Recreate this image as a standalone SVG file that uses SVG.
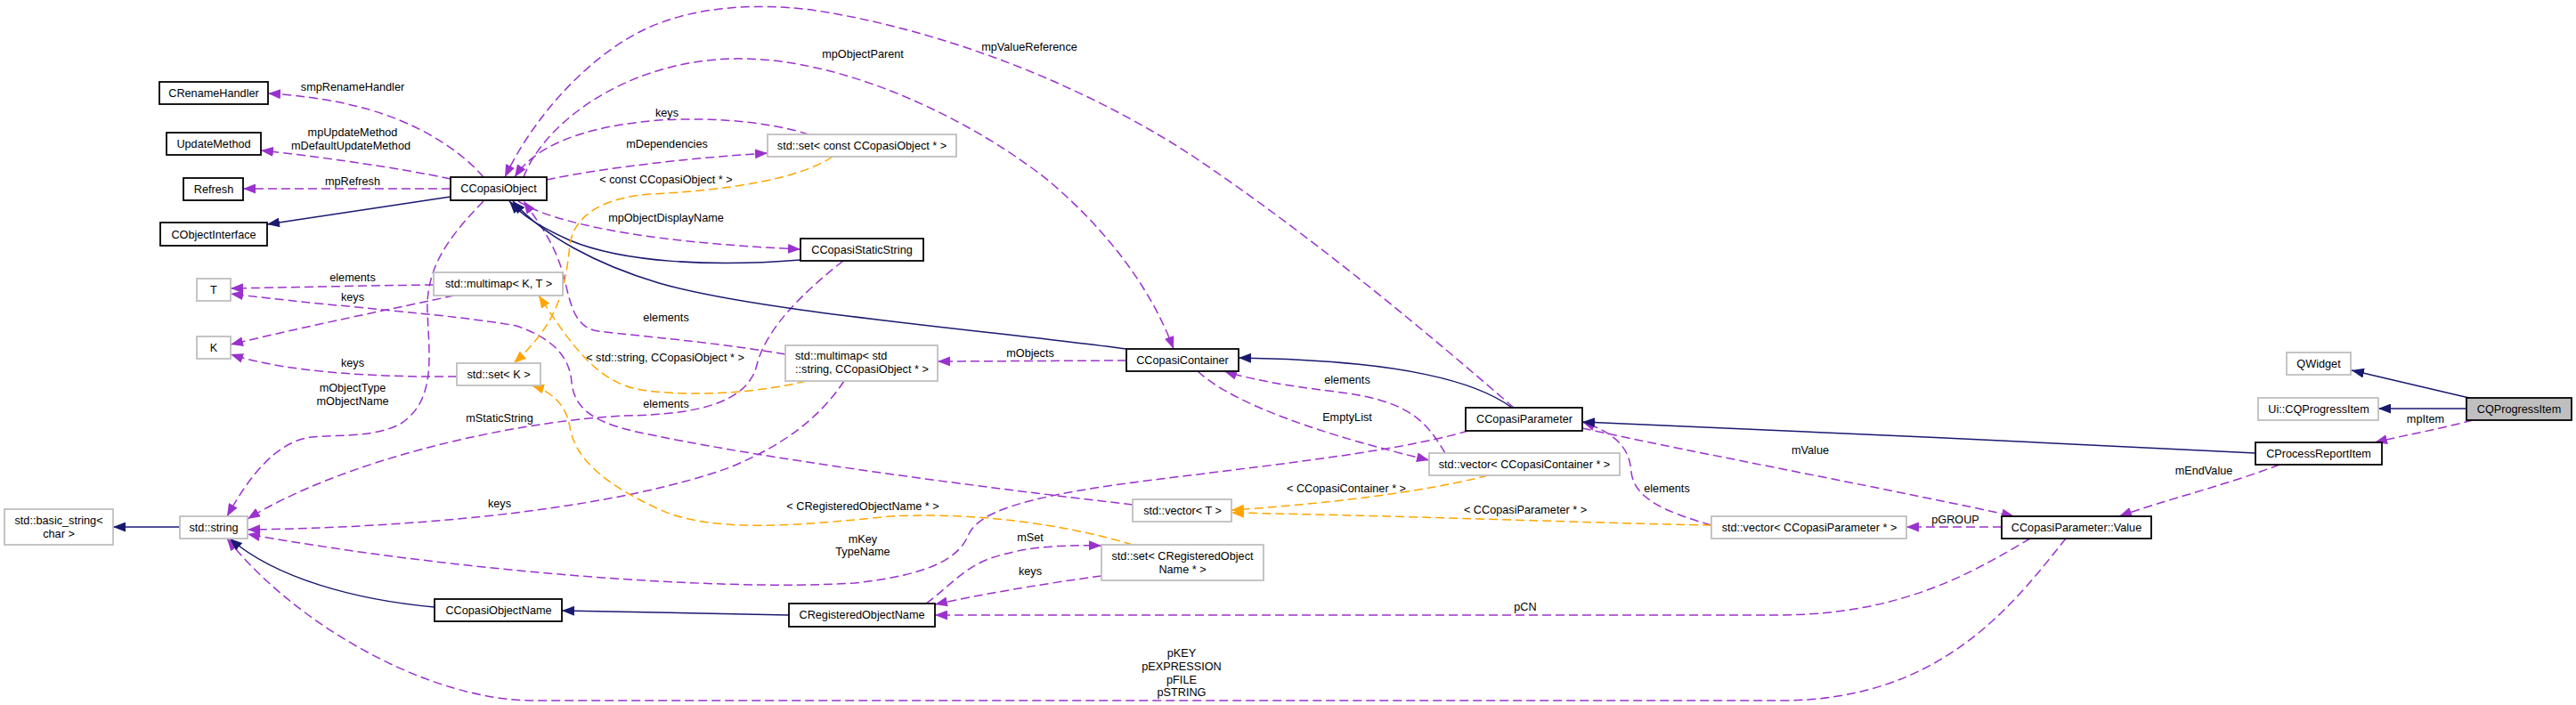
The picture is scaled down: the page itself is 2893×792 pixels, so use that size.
<svg xmlns="http://www.w3.org/2000/svg" width="2893" height="792" viewBox="0 0 2893 792">
<style>
text{font-family:"Liberation Sans",Arial,sans-serif;font-size:12.7px;fill:#000}
.n rect{fill:#fff;stroke:#000;stroke-width:1.8}
.g rect{fill:#fff;stroke:#bfbfbf;stroke-width:1.8}
.r rect{fill:#bfbfbf;stroke:#000;stroke-width:1.8}
.c{text-anchor:middle}
.d{fill:none;stroke:#9a32cd;stroke-width:1.5;stroke-dasharray:10,5}
.s{fill:none;stroke:#191970;stroke-width:1.5}
.o{fill:none;stroke:#ffa500;stroke-width:1.5;stroke-dasharray:10,5}
.l{text-anchor:middle}
</style>
<defs>
<marker id="ap" markerUnits="userSpaceOnUse" markerWidth="14" markerHeight="11" refX="14" refY="5.5" orient="auto"><path d="M0,0 L14,5.5 L0,11 z" fill="#9a32cd"/></marker>
<marker id="an" markerUnits="userSpaceOnUse" markerWidth="14" markerHeight="11" refX="14" refY="5.5" orient="auto"><path d="M0,0 L14,5.5 L0,11 z" fill="#191970"/></marker>
<marker id="ao" markerUnits="userSpaceOnUse" markerWidth="14" markerHeight="11" refX="14" refY="5.5" orient="auto"><path d="M0,0 L14,5.5 L0,11 z" fill="#ffa500"/></marker>
</defs>
<rect width="2893" height="792" fill="#fff"/>
<g id="connectors">
<path class="d" marker-end="url(#ap)" d="M543,199 C520,172 480,145 430,128 C390,114 340,107 301,105"/>
<path class="d" marker-end="url(#ap)" d="M506,201 C450,189 360,176 293,169"/>
<path class="d" marker-end="url(#ap)" d="M506,212 L273,212"/>
<path class="d" marker-end="url(#ap)" d="M1700,458 C1610,380 1480,270 1342,177 C1230,103 1080,40 930,14 C860,2 780,5 720,35 C660,65 600,130 567,199"/>
<path class="d" marker-end="url(#ap)" d="M588,199 C610,140 700,70 820,66 C950,62 1100,140 1180,205 C1250,265 1295,330 1318,392"/>
<path class="d" marker-end="url(#ap)" d="M908,151 C860,135 780,130 720,137 C650,145 600,165 578,199"/>
<path class="d" marker-end="url(#ap)" d="M614,202 C680,188 780,177 862,172"/>
<path class="d" marker-end="url(#ap)" d="M582,226 C620,250 720,272 899,280"/>
<path class="d" marker-end="url(#ap)" d="M882,398 C800,384 720,378 672,372 C640,368 640,330 630,300 C620,270 605,250 588,226"/>
<path class="d" marker-end="url(#ap)" d="M1272,567 C1100,547 850,515 710,484 C660,472 645,455 642,430 C640,400 620,380 580,366 C500,352 380,345 259,330"/>
<path class="d" marker-end="url(#ap)" d="M948,428 C920,470 880,500 820,525 C700,568 500,592 278,595"/>
<path class="d" marker-end="url(#ap)" d="M947,293 C900,330 860,370 850,410 C840,450 790,466 700,467 C560,475 380,520 278,583"/>
<path class="d" marker-end="url(#ap)" d="M543,226 C505,265 478,300 480,350 C482,400 490,450 450,476 C420,492 380,488 350,491 C310,496 280,535 255,580"/>
<path class="d" marker-end="url(#ap)" d="M487,320 C400,321 320,323 259,324"/>
<path class="d" marker-end="url(#ap)" d="M510,332 C450,345 350,365 259,387"/>
<path class="d" marker-end="url(#ap)" d="M513,423 C420,424 320,418 259,398"/>
<path class="d" marker-end="url(#ap)" d="M1265,405 L1053,406"/>
<path class="d" marker-end="url(#ap)" d="M1345,417 C1375,445 1450,480 1605,517"/>
<path class="d" marker-end="url(#ap)" d="M1623,509 C1600,470 1580,450 1500,440 C1440,433 1400,425 1375,417"/>
<path class="d" marker-end="url(#ap)" d="M1777,481 C1900,508 2150,555 2262,580"/>
<path class="d" marker-end="url(#ap)" d="M1922,590 C1870,575 1835,560 1832,530 C1830,500 1810,485 1777,474"/>
<path class="d" marker-end="url(#ap)" d="M2248,592 L2141,592"/>
<path class="d" marker-end="url(#ap)" d="M1649,484 C1560,510 1400,525 1250,545 C1150,560 1100,575 1088,600 C1078,625 1050,645 960,655 C800,665 500,640 278,600"/>
<path class="d" marker-end="url(#ap)" d="M1040,678 C1065,660 1080,640 1110,628 C1150,614 1190,612 1237,613"/>
<path class="d" marker-end="url(#ap)" d="M1237,647 C1170,656 1100,668 1050,679"/>
<path class="d" marker-end="url(#ap)" d="M2280,605 C2220,640 2140,690 2000,691 L1050,691"/>
<path class="d" marker-end="url(#ap)" d="M2320,605 C2260,680 2180,787 2000,787 L600,787 C480,787 330,700 255,605"/>
<path class="d" marker-end="url(#ap)" d="M2560,522 C2500,545 2430,562 2380,580"/>
<path class="d" marker-end="url(#ap)" d="M2777,472 C2740,482 2700,489 2667,497"/>
<path class="s" marker-end="url(#an)" d="M506,221 L300,252"/>
<path class="s" marker-end="url(#an)" d="M899,292 C800,300 700,295 640,270 C600,252 585,240 572,226"/>
<path class="s" marker-end="url(#an)" d="M1265,392 C1100,370 850,350 740,318 C670,297 610,265 576,226"/>
<path class="s" marker-end="url(#an)" d="M1698,458 C1660,430 1580,405 1391,402"/>
<path class="s" marker-end="url(#an)" d="M2533,509 C2300,497 2000,483 1777,474"/>
<path class="s" marker-end="url(#an)" d="M488,682 C400,674 310,650 258,605"/>
<path class="s" marker-end="url(#an)" d="M886,691 L631,686"/>
<path class="s" marker-end="url(#an)" d="M202,592 L127,592"/>
<path class="s" marker-end="url(#an)" d="M2773,447 L2641,416"/>
<path class="s" marker-end="url(#an)" d="M2770,459 L2671,459"/>
<path class="o" marker-end="url(#ao)" d="M935,176 C900,200 820,214 730,218 C680,222 645,240 640,275 C635,320 630,360 577,408"/>
<path class="o" marker-end="url(#ao)" d="M905,428 C860,440 780,447 720,438 C670,430 640,385 605,332"/>
<path class="o" marker-end="url(#ao)" d="M1272,612 C1200,590 1100,575 1000,580 C900,590 800,600 740,572 C670,540 645,510 640,480 C636,455 620,440 597,433"/>
<path class="o" marker-end="url(#ao)" d="M1671,534 C1600,553 1480,567 1383,573"/>
<path class="o" marker-end="url(#ao)" d="M1922,590 C1800,588 1600,580 1383,576"/>
<g id="labels">
<text class="l" x="396" y="102">smpRenameHandler</text>
<text class="l" x="396" y="153">mpUpdateMethod</text>
<text class="l" x="394" y="168">mDefaultUpdateMethod</text>
<text class="l" x="396" y="208">mpRefresh</text>
<text class="l" x="396" y="316">elements</text>
<text class="l" x="396" y="338">keys</text>
<text class="l" x="396" y="412">keys</text>
<text class="l" x="396" y="440">mObjectType</text>
<text class="l" x="396" y="455">mObjectName</text>
<text class="l" x="1156" y="57">mpValueReference</text>
<text class="l" x="969" y="65">mpObjectParent</text>
<text class="l" x="749" y="131">keys</text>
<text class="l" x="749" y="166">mDependencies</text>
<text class="l" x="748" y="206">&lt; const CCopasiObject * &gt;</text>
<text class="l" x="748" y="249">mpObjectDisplayName</text>
<text class="l" x="748" y="361">elements</text>
<text class="l" x="747" y="406">&lt; std::string, CCopasiObject * &gt;</text>
<text class="l" x="748" y="458">elements</text>
<text class="l" x="561" y="474">mStaticString</text>
<text class="l" x="561" y="570">keys</text>
<text class="l" x="1157" y="401">mObjects</text>
<text class="l" x="969" y="573">&lt; CRegisteredObjectName * &gt;</text>
<text class="l" x="969" y="610">mKey</text>
<text class="l" x="969" y="624">TypeName</text>
<text class="l" x="1157" y="608">mSet</text>
<text class="l" x="1157" y="646">keys</text>
<text class="l" x="1327" y="738">pKEY</text>
<text class="l" x="1327" y="753">pEXPRESSION</text>
<text class="l" x="1327" y="768">pFILE</text>
<text class="l" x="1327" y="782">pSTRING</text>
<text class="l" x="1513" y="431">elements</text>
<text class="l" x="1513" y="473">EmptyList</text>
<text class="l" x="1512" y="553">&lt; CCopasiContainer * &gt;</text>
<text class="l" x="1713" y="577">&lt; CCopasiParameter * &gt;</text>
<text class="l" x="1713" y="686">pCN</text>
<text class="l" x="2033" y="510">mValue</text>
<text class="l" x="1872" y="553">elements</text>
<text class="l" x="2196" y="588">pGROUP</text>
<text class="l" x="2475" y="533">mEndValue</text>
<text class="l" x="2724" y="475">mpItem</text>
</g>
</g>
<g id="CRenameHandler" class="n"><rect x="179" y="92" width="122" height="25"/><text class="c" x="240" y="109">CRenameHandler</text></g>
<g id="UpdateMethod" class="n"><rect x="187" y="149" width="106" height="25"/><text class="c" x="240" y="166">UpdateMethod</text></g>
<g id="Refresh" class="n"><rect x="206" y="200" width="67" height="25"/><text class="c" x="240" y="217">Refresh</text></g>
<g id="CObjectInterface" class="n"><rect x="180" y="250" width="120" height="26"/><text class="c" x="240" y="268">CObjectInterface</text></g>
<g id="T" class="g"><rect x="221" y="313" width="38" height="25"/><text class="c" x="240" y="330">T</text></g>
<g id="K" class="g"><rect x="221" y="378" width="38" height="25"/><text class="c" x="240" y="395">K</text></g>
<g id="std_string" class="g"><rect x="202" y="580" width="76" height="25"/><text class="c" x="240" y="597">std::string</text></g>
<g id="std_basic_string" class="g"><rect x="5" y="572" width="122" height="40"/><text class="c" x="66" y="589">std::basic_string&lt;</text><text class="c" x="66" y="604">char &gt;</text></g>
<g id="CCopasiObject" class="n"><rect x="506" y="199" width="108" height="26"/><text class="c" x="560" y="216">CCopasiObject</text></g>
<g id="std_multimap_KT" class="g"><rect x="487" y="306" width="145" height="26"/><text class="c" x="560" y="323">std::multimap&lt; K, T &gt;</text></g>
<g id="std_set_K" class="g"><rect x="513" y="408" width="94" height="25"/><text class="c" x="560" y="425">std::set&lt; K &gt;</text></g>
<g id="CCopasiObjectName" class="n"><rect x="488" y="673" width="143" height="25"/><text class="c" x="560" y="690">CCopasiObjectName</text></g>
<g id="std_set_const_CCopasiObject" class="g"><rect x="862" y="151" width="212" height="25"/><text class="c" x="968" y="168">std::set&lt; const CCopasiObject * &gt;</text></g>
<g id="CCopasiStaticString" class="n"><rect x="899" y="268" width="138" height="25"/><text class="c" x="968" y="285">CCopasiStaticString</text></g>
<g id="std_multimap_string" class="g"><rect x="882" y="388" width="171" height="40"/><text x="893" y="404">std::multimap&lt; std</text><text x="893" y="419">::string, CCopasiObject * &gt;</text></g>
<g id="CRegisteredObjectName" class="n"><rect x="886" y="678" width="164" height="26"/><text class="c" x="968" y="695">CRegisteredObjectName</text></g>
<g id="CCopasiContainer" class="n"><rect x="1265" y="392" width="126" height="25"/><text class="c" x="1328" y="409">CCopasiContainer</text></g>
<g id="std_vector_T" class="g"><rect x="1272" y="561" width="111" height="25"/><text class="c" x="1328" y="578">std::vector&lt; T &gt;</text></g>
<g id="std_set_CRegisteredObjectName" class="g"><rect x="1237" y="612" width="182" height="40"/><text class="c" x="1328" y="629">std::set&lt; CRegisteredObject</text><text class="c" x="1328" y="644">Name * &gt;</text></g>
<g id="CCopasiParameter" class="n"><rect x="1646" y="458" width="131" height="26"/><text class="c" x="1712" y="475">CCopasiParameter</text></g>
<g id="std_vector_CCopasiContainer" class="g"><rect x="1605" y="509" width="214" height="25"/><text class="c" x="1712" y="526">std::vector&lt; CCopasiContainer * &gt;</text></g>
<g id="std_vector_CCopasiParameter" class="g"><rect x="1922" y="580" width="219" height="25"/><text class="c" x="2032" y="597">std::vector&lt; CCopasiParameter * &gt;</text></g>
<g id="CCopasiParameter_Value" class="n"><rect x="2248" y="580" width="168" height="25"/><text class="c" x="2332" y="597">CCopasiParameter::Value</text></g>
<g id="QWidget" class="g"><rect x="2568" y="396" width="72" height="25"/><text class="c" x="2604" y="413">QWidget</text></g>
<g id="Ui_CQProgressItem" class="g"><rect x="2536" y="447" width="135" height="25"/><text class="c" x="2604" y="464">Ui::CQProgressItem</text></g>
<g id="CProcessReportItem" class="n"><rect x="2533" y="497" width="142" height="25"/><text class="c" x="2604" y="514">CProcessReportItem</text></g>
<g id="CQProgressItem" class="r"><rect x="2770" y="447" width="118" height="25"/><text class="c" x="2829" y="464">CQProgressItem</text></g>
</svg>
